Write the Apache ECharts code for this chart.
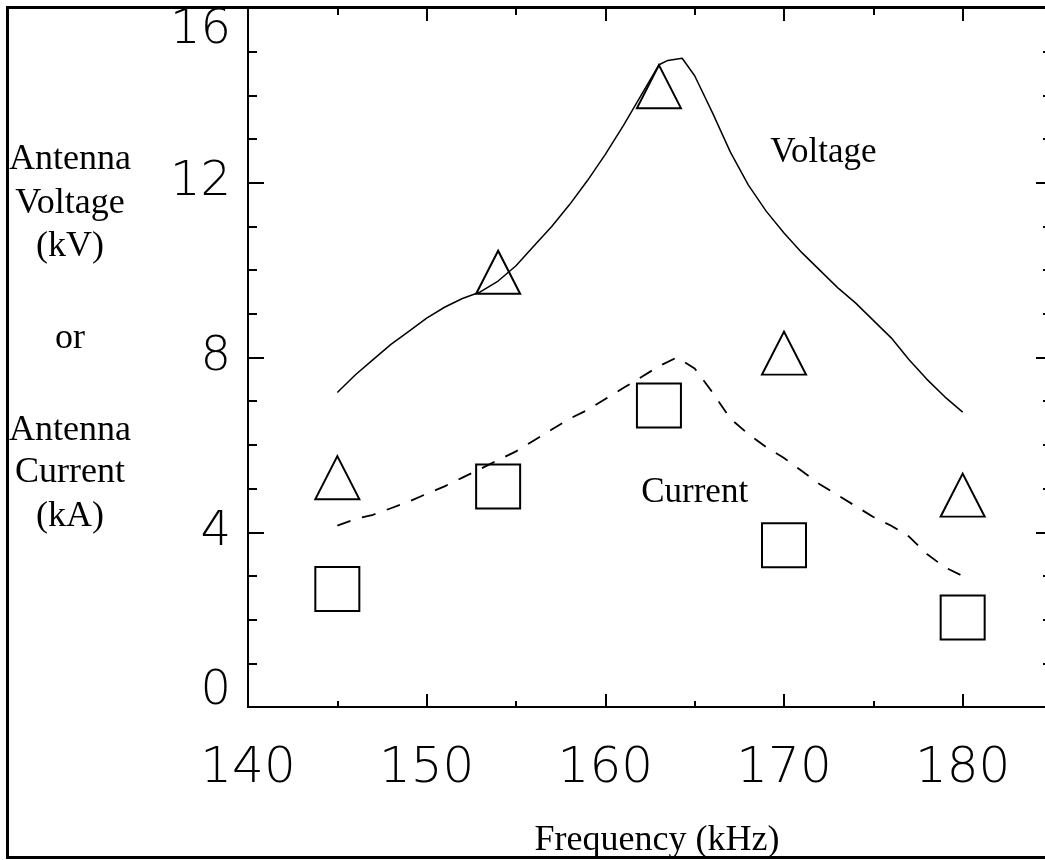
<!DOCTYPE html>
<html>
<head>
<meta charset="utf-8">
<script src="https://cdn.jsdelivr.net/npm/echarts@6/dist/echarts.min.js"></script>
<style>
  html, body { margin: 0; padding: 0; background: #fff; }
  #chart { width: 1045px; height: 860px; }
</style>
</head>
<body>
<div id="chart"></div>
<script>
// ---- data ----
const xTickLabels = [140, 150, 160, 170, 180];
const yTickLabels = [0, 4, 8, 12, 16];

// measured points
const measFreq = [145, 154, 163, 170, 180];
const measVoltage = [5.25, 9.95, 14.2, 8.1, 4.85];   // kV (triangles)
const measCurrent = [2.7, 5.05, 6.9, 3.7, 2.05];     // kA (squares)

// model curve: voltage (solid)
const voltFreq = [145, 146, 147, 148, 149, 150, 151, 152, 153, 154, 155, 156, 157, 158, 159, 160, 161, 162, 163, 163.5, 164.3, 165, 166, 167, 168, 169, 170, 171, 172, 173, 174, 175, 176, 177, 178, 179, 180];
const voltKV = [7.2, 7.6, 7.95, 8.3, 8.6, 8.9, 9.15, 9.35, 9.5, 9.75, 10.1, 10.55, 11.0, 11.5, 12.05, 12.65, 13.3, 14.0, 14.7, 14.8, 14.85, 14.45, 13.6, 12.7, 11.95, 11.35, 10.85, 10.4, 10.0, 9.6, 9.25, 8.85, 8.45, 7.95, 7.5, 7.1, 6.75];

// model curve: current (dashed)
const currFreq = [145, 146, 147, 148, 149, 150, 151, 152, 153, 154, 155, 156, 157, 158, 159, 160, 161, 162, 163, 164, 165, 166, 167, 168, 169, 170, 171, 172, 173, 174, 175, 176, 177, 178, 179, 180];
const currKA = [4.15, 4.3, 4.4, 4.55, 4.7, 4.88, 5.05, 5.25, 5.45, 5.65, 5.85, 6.1, 6.35, 6.6, 6.8, 7.05, 7.3, 7.55, 7.8, 8.0, 7.75, 7.2, 6.6, 6.25, 5.95, 5.7, 5.4, 5.1, 4.85, 4.6, 4.35, 4.15, 3.9, 3.5, 3.2, 3.0];

// curve annotations
const annotText = ['Voltage', 'Current'];
const annotFreq = [172.2, 165.0];
const annotValue = [12.68, 4.9];

// y-axis title lines
const yTitleLines = ['Antenna', 'Voltage', '(kV)', 'or', 'Antenna', 'Current', '(kA)'];
const xTitle = 'Frequency (kHz)';

// ---- chart ----
const zip = (a, b) => a.map((v, i) => [v, b[i]]);
const black = '#000';
const serif = 'Liberation Serif';
const sans = 'DejaVu Sans';

const yTitleY = [160, 204, 247, 339, 431, 473, 517];

const chart = echarts.init(document.getElementById('chart'), null, { renderer: 'canvas' });

function xAxisCfg(pos, interval, tickLen, showLine, showLabel) {
  return {
    type: 'value', position: pos, min: 140, max: 185, interval: interval,
    axisLine: { show: showLine, onZero: false, lineStyle: { color: black, width: 2 } },
    axisTick: { show: true, inside: true, length: tickLen, lineStyle: { color: black, width: 2 } },
    splitLine: { show: false },
    axisLabel: showLabel ? {
      show: true, showMaxLabel: false, margin: 37,
      color: black, fontSize: 50, fontFamily: sans, fontWeight: 200
    } : { show: false }
  };
}

function yAxisCfg(pos, showLabel) {
  return {
    type: 'value', position: pos, min: 0, max: 16, interval: 4,
    axisLine: { show: true, onZero: false, lineStyle: { color: black, width: 2 } },
    axisTick: { show: true, inside: true, length: 16, lineStyle: { color: black, width: 2 } },
    minorTick: { show: true, splitNumber: 4, length: 9, lineStyle: { color: black, width: 2 } },
    splitLine: { show: false },
    minorSplitLine: { show: false },
    axisLabel: showLabel ? {
      show: true, margin: 17, color: black,
      formatter: function (v) {
        if (v === 16) return '{top|' + v + '}';
        if (v === 0) return '{bot|' + v + '}';
        return '{n|' + v + '}';
      },
      rich: {
        n: { fontSize: 48, fontFamily: sans, fontWeight: 200, color: black },
        top: { fontSize: 48, fontFamily: sans, fontWeight: 200, color: black, padding: [46, 0, 0, 0] },
        bot: { fontSize: 48, fontFamily: sans, fontWeight: 200, color: black, padding: [0, 0, 30, 0] }
      }
    } : { show: false }
  };
}

const graphics = [{
  type: 'rect', z: -10, silent: true,
  shape: { x: 7.5, y: 7.5, width: 1100, height: 850 },
  style: { fill: 'none', stroke: black, lineWidth: 3 }
}];
yTitleLines.forEach((t, i) => {
  graphics.push({
    type: 'text', x: 70, y: yTitleY[i], silent: true,
    style: { text: t, align: 'center', verticalAlign: 'middle', fontSize: 36, fontFamily: serif, fill: black }
  });
});

const option = {
  animation: false,
  backgroundColor: '#fff',
  grid: { left: 248, top: 8, width: 804, height: 699, containLabel: false, outerBoundsMode: 'none' },
  xAxis: [
    Object.assign(xAxisCfg('bottom', 10, 13, true, true), {
      name: xTitle, nameLocation: 'middle', nameGap: 116,
      nameTextStyle: { fontSize: 36, fontFamily: serif, color: black, padding: [0, 0, 0, 14] }
    }),
    xAxisCfg('bottom', 5, 6, false, false),
    xAxisCfg('top', 10, 13, true, false),
    xAxisCfg('top', 5, 7, false, false)
  ],
  yAxis: [yAxisCfg('left', true), yAxisCfg('right', false)],
  graphic: graphics,
  series: [
    {
      type: 'line', xAxisIndex: 0, yAxisIndex: 0, data: zip(voltFreq, voltKV),
      symbol: 'none', smooth: false, lineStyle: { color: black, width: 1.5 }, z: 2
    },
    {
      type: 'line', xAxisIndex: 0, yAxisIndex: 0, data: zip(currFreq, currKA),
      symbol: 'none', smooth: false, lineStyle: { color: black, width: 1.8, type: [14, 12] }, z: 2
    },
    {
      type: 'scatter', xAxisIndex: 0, yAxisIndex: 0, data: zip(measFreq, measVoltage),
      symbol: 'triangle', symbolSize: [44, 43],
      itemStyle: { color: 'rgba(0,0,0,0)', borderColor: black, borderWidth: 2, opacity: 1 }, z: 3
    },
    {
      type: 'scatter', xAxisIndex: 0, yAxisIndex: 0, data: zip(measFreq, measCurrent),
      symbol: 'rect', symbolSize: 44,
      itemStyle: { color: 'rgba(0,0,0,0)', borderColor: black, borderWidth: 2, opacity: 1 }, z: 3
    },
    {
      type: 'scatter', xAxisIndex: 0, yAxisIndex: 0,
      data: annotText.map((t, i) => [annotFreq[i], annotValue[i], t]),
      symbolSize: 0, silent: true,
      itemStyle: { opacity: 1 },
      label: {
        show: true, position: 'inside', formatter: p => p.value[2],
        fontSize: 35, fontFamily: serif, color: black, opacity: 1
      }
    }
  ]
};
chart.setOption(option);
</script>
</body>
</html>
